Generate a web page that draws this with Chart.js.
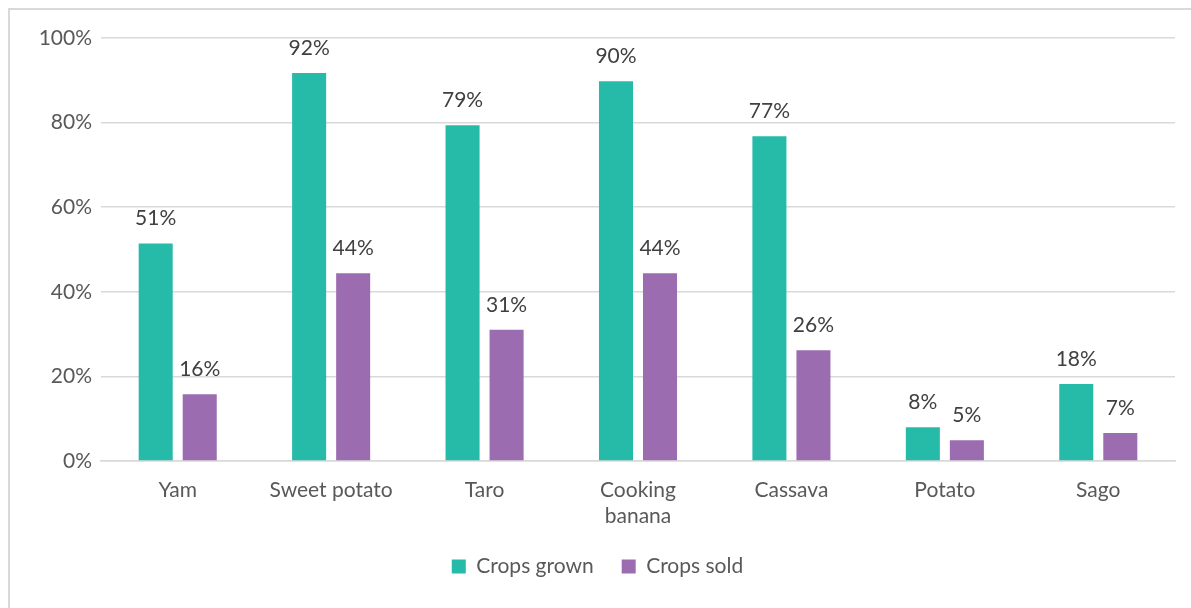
<!DOCTYPE html>
<html>
<head>
<meta charset="utf-8">
<script src="https://cdn.jsdelivr.net/npm/chart.js@4"></script>
<style>
  html, body { margin: 0; padding: 0; background: #fff; }
  #frame { position: absolute; left: 8px; top: 8px; width: 1200px; height: 620px; border: 2px solid #d9d9d9; box-sizing: border-box; }
  #wrap { position: absolute; left: 0; top: 0; width: 1191px; height: 608px; }
</style>
</head>
<body>
<div id="frame"></div>
<div id="wrap"><canvas id="chart" width="1191" height="608"></canvas></div>
<script>
// categorias y valores (porcentaje de hogares)
const categories = ['Yam', 'Sweet potato', 'Taro', ['Cooking', 'banana'], 'Cassava', 'Potato', 'Sago'];
const cropsGrown = [51.4, 91.7, 79.4, 89.8, 76.8, 8.0, 18.2];
const cropsSold = [15.8, 44.4, 31.0, 44.4, 26.2, 4.9, 6.6];
const yTicks = [0, 20, 40, 60, 80, 100];

const FONT = 'Lato, "Open Sans", sans-serif';

// Etiquetas encima de cada barra
const barLabels = {
    id: 'barLabels',
    afterDatasetsDraw(chart) {
        const ctx = chart.ctx;
        ctx.save();
        ctx.font = '21px ' + FONT;
        ctx.fillStyle = '#404040';
        ctx.textAlign = 'center';
        ctx.textBaseline = 'middle';
        chart.data.datasets.forEach((ds, i) => {
            chart.getDatasetMeta(i).data.forEach((bar, j) => {
                ctx.fillText(Math.round(ds.data[j]) + '%', bar.x, bar.y - 25);
            });
        });
        ctx.restore();
    }
};

new Chart(document.getElementById('chart'), {
    type: 'bar',
    data: {
        labels: categories,
        datasets: [
            { label: 'Crops grown', data: cropsGrown, backgroundColor: '#26bba9' },
            { label: 'Crops sold', data: cropsSold, backgroundColor: '#9b6db0' }
        ]
    },
    options: {
        responsive: false,
        animation: false,
        devicePixelRatio: 1,
        layout: { padding: { left: 20, right: 16, top: 38, bottom: 21 } },
        datasets: { bar: { categoryPercentage: 0.574, barPercentage: 0.773 } },
        scales: {
            x: {
                grid: { display: false },
                border: { color: '#d9d9d9', width: 1.5 },
                ticks: { color: '#595959', font: { family: FONT, size: 21 }, padding: 9, maxRotation: 0, autoSkip: false },
                afterFit: s => { s.height = 67; }
            },
            y: {
                min: 0, max: 100,
                afterBuildTicks: s => { s.ticks = yTicks.map(v => ({ value: v })); },
                grid: { color: '#d9d9d9', lineWidth: 1.5, drawTicks: false },
                border: { display: false },
                ticks: { color: '#595959', font: { family: FONT, size: 21 }, padding: 9, callback: v => v + '%' },
                afterFit: s => { s.width = 81; }
            }
        },
        plugins: {
            legend: {
                position: 'bottom',
                labels: { color: '#595959', font: { family: FONT, size: 21 }, boxWidth: 14, boxHeight: 14, padding: 28 }
            },
            tooltip: { enabled: false }
        }
    },
    plugins: [barLabels]
});
</script>
</body>
</html>
